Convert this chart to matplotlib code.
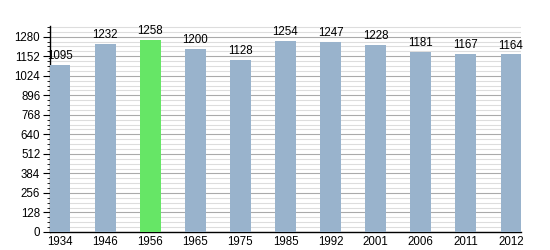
import matplotlib
matplotlib.use("Agg")
import matplotlib.pyplot as plt
from matplotlib.ticker import MultipleLocator

plt.rcParams["font.family"] = ["Liberation Sans", "DejaVu Sans"]

years = ["1934", "1946", "1956", "1965", "1975", "1985", "1992", "2001", "2006", "2011", "2012"]
population = [1095, 1232, 1258, 1200, 1128, 1254, 1247, 1228, 1181, 1167, 1164]
highlight = "1956"

blue = "#99b3cc"
green = "#66e666"
colors = [green if y == highlight else blue for y in years]

fig = plt.figure(figsize=(5.5, 2.5), dpi=100)
ax = fig.add_axes([50/550, 1 - 232/250, (521 - 50)/550, (232 - 26)/250])

x = list(range(len(years)))
w = 0.455
ax.bar(x, population, width=w, color=colors, zorder=3)

fs = 8.3
for xi, v in zip(x, population):
    ax.annotate(str(v), (xi, v), xytext=(0, 2), textcoords="offset points",
                ha="center", va="bottom", fontsize=fs, color="black", zorder=4)

ax.set_xlim(-w/2, len(years) - 1 + w/2)
ax.set_ylim(0, 1350)
ax.yaxis.set_major_locator(MultipleLocator(128))
ax.yaxis.set_minor_locator(MultipleLocator(32))
ax.set_xticks(x)
ax.set_xticklabels(years)

ax.grid(axis="y", which="major", color="#aaaaaa", linewidth=0.8, zorder=1)
ax.grid(axis="y", which="minor", color="#dddddd", linewidth=0.8, zorder=1)
ax.set_axisbelow(True)

for s in ["top", "right"]:
    ax.spines[s].set_visible(False)
ax.spines["left"].set_linewidth(1.0)
ax.spines["bottom"].set_linewidth(1.0)

ax.tick_params(axis="y", which="major", length=5, width=0.8, labelsize=fs, pad=2)
ax.tick_params(axis="y", which="minor", length=2.5, width=0.6)
ax.tick_params(axis="x", which="both", length=0, labelsize=fs, pad=3)

fig.savefig("out.png", dpi=100)
